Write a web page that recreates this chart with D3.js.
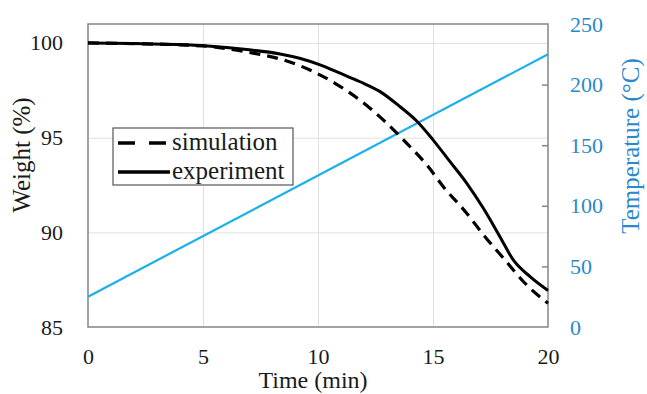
<!DOCTYPE html>
<html>
<head>
<meta charset="utf-8">
<script src="https://cdn.jsdelivr.net/npm/d3@7"></script>
<style>
  body { margin: 0; background: #fff; }
  svg, text { font-family: "Liberation Serif", "Times New Roman", serif; }
</style>
</head>
<body>
<div id="chart"></div>
<script>
// time (min) and weight (%)
const expTime   = [0, 2, 3.9, 5.2, 6.9, 8.35, 9.2, 10.09, 10.96, 11.83, 12.7, 13.57, 14.29, 15.01, 15.74, 16.47, 17.19, 17.91, 18.49, 19.22, 20];
const expWeight = [100, 99.97, 99.92, 99.84, 99.65, 99.42, 99.19, 98.84, 98.4, 97.95, 97.43, 96.63, 95.88, 94.87, 93.73, 92.59, 91.27, 89.77, 88.54, 87.66, 86.93];
const simTime   = [0, 2, 4, 5.4, 7.0, 8.5, 9.65, 10.74, 11.83, 12.87, 13.86, 14.73, 15.5, 16.4, 17.26, 18.13, 19.0, 20];
const simWeight = [100, 99.96, 99.9, 99.8, 99.5, 99.1, 98.57, 97.87, 96.97, 95.9, 94.7, 93.56, 92.33, 91.1, 89.77, 88.54, 87.31, 86.25];
// heating ramp
const tempTime  = [0, 20];
const tempValue = [25, 225];

const xTicks = [0, 5, 10, 15, 20];
const yTicks = [85, 90, 95, 100];
const y2Ticks = [0, 50, 100, 150, 200, 250];

const width = 647, height = 394;
const margin = {top: 24, right: 99, bottom: 67, left: 88};
const plotRight = width - margin.right;
const plotBottom = height - margin.bottom;

const serif = "Liberation Serif, Times New Roman, serif";
const blueLine = "#1ab0ec";
const blueText = "#2a88cc";
const inkColor = "#1a1a1a";

let svg = d3.select("#chart")
    .append("svg")
    .attr("width", width)
    .attr("height", height)
    .attr("font-family", serif);

let xScale = d3.scaleLinear().domain([0, 20]).range([margin.left, plotRight]);
let yScale = d3.scaleLinear().domain([85, 101]).range([plotBottom, margin.top]);
let y2Scale = d3.scaleLinear().domain([0, 250]).range([plotBottom, margin.top]);

// grid
svg.append("g")
    .attr("class", "grid")
    .attr("transform", "translate(0," + plotBottom + ")")
    .call(d3.axisBottom(xScale).tickValues(xTicks.slice(1, -1))
        .tickSize(-(plotBottom - margin.top)).tickFormat(""))
    .call(g => g.select(".domain").remove())
    .call(g => g.selectAll("line").attr("stroke", "#e0e0e0").attr("stroke-width", 1));

svg.append("g")
    .attr("class", "grid")
    .attr("transform", "translate(" + margin.left + ",0)")
    .call(d3.axisLeft(yScale).tickValues(yTicks.slice(1))
        .tickSize(-(plotRight - margin.left)).tickFormat(""))
    .call(g => g.select(".domain").remove())
    .call(g => g.selectAll("line").attr("stroke", "#e0e0e0").attr("stroke-width", 1));

// frame
svg.append("rect")
    .attr("x", margin.left)
    .attr("y", margin.top)
    .attr("width", plotRight - margin.left)
    .attr("height", plotBottom - margin.top)
    .attr("fill", "none")
    .attr("stroke", "#858585")
    .attr("stroke-width", 1.5);

// axes
function styleLabels(g, color) {
    g.attr("font-family", serif);
    g.select(".domain").remove();
    g.selectAll("text")
        .attr("font-size", 22)
        .attr("fill", color)
        .attr("font-family", serif);
}

svg.append("g")
    .attr("class", "xAxis")
    .attr("transform", "translate(0," + plotBottom + ")")
    .call(d3.axisBottom(xScale).tickValues(xTicks).tickSize(0).tickPadding(21))
    .call(g => styleLabels(g, inkColor));

svg.append("g")
    .attr("class", "yAxis")
    .attr("transform", "translate(" + margin.left + ",0)")
    .call(d3.axisLeft(yScale).tickValues(yTicks).tickSize(0).tickPadding(25))
    .call(g => styleLabels(g, inkColor));

svg.append("g")
    .attr("class", "y2Ticks")
    .attr("transform", "translate(" + plotRight + ",0)")
    .call(d3.axisLeft(y2Scale).tickValues(y2Ticks.slice(1, -1)).tickSize(6).tickFormat(""))
    .call(g => g.select(".domain").remove())
    .call(g => g.selectAll("line").attr("stroke", "#858585").attr("stroke-width", 1.5));

svg.append("g")
    .attr("class", "y2Axis")
    .attr("transform", "translate(" + plotRight + ",0)")
    .call(d3.axisRight(y2Scale).tickValues(y2Ticks).tickSize(0).tickPadding(22))
    .call(g => styleLabels(g, blueText));

// lines
let weightLine = d3.line()
    .x(d => xScale(d[0]))
    .y(d => yScale(d[1]))
    .curve(d3.curveMonotoneX);

svg.append("path")
    .datum(d3.zip(tempTime, tempValue))
    .attr("fill", "none")
    .attr("stroke", blueLine)
    .attr("stroke-width", 2.2)
    .attr("d", d3.line().x(d => xScale(d[0])).y(d => y2Scale(d[1])));

svg.append("path")
    .datum(d3.zip(simTime, simWeight))
    .attr("fill", "none")
    .attr("stroke", "#000")
    .attr("stroke-width", 3.2)
    .attr("stroke-dasharray", "11,7")
    .attr("d", weightLine);

svg.append("path")
    .datum(d3.zip(expTime, expWeight))
    .attr("fill", "none")
    .attr("stroke", "#000")
    .attr("stroke-width", 3)
    .attr("d", weightLine);

// legend
let legend = svg.append("g").attr("class", "legend");
legend.append("rect")
    .attr("x", 113).attr("y", 128)
    .attr("width", 180).attr("height", 57)
    .attr("fill", "#fff")
    .attr("stroke", "#555")
    .attr("stroke-width", 1.2);

const legendItems = [
    {label: "simulation", dash: "17,14"},
    {label: "experiment", dash: null}
];
legendItems.forEach((item, i) => {
    let cy = 143 + i * 29;
    legend.append("line")
        .attr("x1", 118).attr("x2", 170)
        .attr("y1", cy).attr("y2", cy)
        .attr("stroke", "#000")
        .attr("stroke-width", 3.4)
        .attr("stroke-dasharray", item.dash);
    legend.append("text")
        .attr("x", 172).attr("y", cy + 7)
        .attr("font-size", 25)
        .attr("font-family", serif)
        .attr("fill", inkColor)
        .text(item.label);
});

// axis titles
svg.append("text")
    .attr("x", 313)
    .attr("y", 388)
    .attr("text-anchor", "middle")
    .attr("font-size", 24)
    .attr("fill", inkColor)
    .text("Time (min)");

svg.append("text")
    .attr("transform", "translate(30,155) rotate(-90)")
    .attr("text-anchor", "middle")
    .attr("font-size", 25)
    .attr("fill", inkColor)
    .text("Weight (%)");

svg.append("text")
    .attr("transform", "translate(639,146) rotate(-90)")
    .attr("text-anchor", "middle")
    .attr("font-size", 25)
    .attr("fill", blueText)
    .text("Temperature (°C)");
</script>
</body>
</html>
